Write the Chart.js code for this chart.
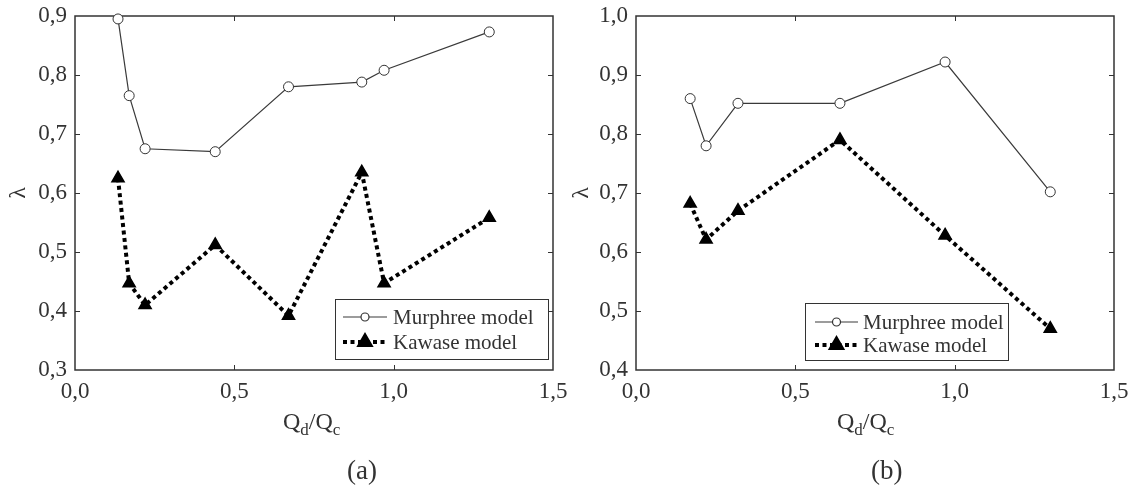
<!DOCTYPE html>
<html>
<head>
<meta charset="utf-8">
<script src="https://cdn.jsdelivr.net/npm/chart.js@4"></script>
<style>
  html, body { margin: 0; padding: 0; background: #fff; }
  #wrap { position: relative; width: 1130px; height: 499px; overflow: hidden;
          font-family: 'Liberation Serif', 'Times New Roman', serif; color: #333; }
  canvas { position: absolute; top: 0; }
  .xt { position: absolute; font-size: 24px; line-height: 1; white-space: nowrap; }
  .xt sub { font-size: 17px; vertical-align: -6px; line-height: 0; }
  .cap { position: absolute; font-size: 27px; line-height: 1; }
</style>
</head>
<body>
<div id="wrap">
  <canvas id="chartA" width="580" height="499" style="left:0"></canvas>
  <canvas id="chartB" width="565" height="499" style="left:565px"></canvas>
  <div class="xt" style="left:283px; top:409px">Q<sub>d</sub>/Q<sub>c</sub></div>
  <div class="xt" style="left:837px; top:409px">Q<sub>d</sub>/Q<sub>c</sub></div>
  <div class="cap" style="left:347px; top:457px">(a)</div>
  <div class="cap" style="left:871px; top:457px">(b)</div>
</div>
<script>
// panel (a)
const qA = [0.135, 0.17, 0.22, 0.44, 0.67, 0.90, 0.97, 1.30];
const murphreeA = [0.895, 0.765, 0.675, 0.670, 0.780, 0.788, 0.808, 0.873];
const kawaseA = [0.625, 0.447, 0.410, 0.512, 0.392, 0.635, 0.447, 0.558];
const yTicksA = ['0,3', '0,4', '0,5', '0,6', '0,7', '0,8', '0,9'];

// panel (b)
const qB = [0.17, 0.22, 0.32, 0.64, 0.97, 1.30];
const murphreeB = [0.860, 0.780, 0.852, 0.852, 0.922, 0.702];
const kawaseB = [0.682, 0.621, 0.670, 0.790, 0.628, 0.470];
const yTicksB = ['0,4', '0,5', '0,6', '0,7', '0,8', '0,9', '1,0'];

const xTicks = ['0,0', '0,5', '1,0', '1,5'];
const seriesNames = ['Murphree model', 'Kawase model'];

const FONT = "'Liberation Serif', 'Times New Roman', serif";
const INK = '#333';

const toPoints = (xs, ys) => xs.map((x, i) => ({ x: x, y: ys[i] }));

// box around the plot with inward tick marks
const framePlugin = {
  id: 'frame',
  beforeDatasetsDraw(chart) {
    const { ctx, chartArea: a, scales } = chart;
    ctx.save();
    ctx.strokeStyle = INK;
    ctx.lineWidth = 1.5;
    ctx.strokeRect(a.left, a.top, a.right - a.left, a.bottom - a.top);
    ctx.lineWidth = 1;
    const len = 5;
    scales.x.ticks.forEach((t, i) => {
      if (i === 0 || i === scales.x.ticks.length - 1) return;
      const px = Math.round(scales.x.getPixelForValue(t.value)) + 0.5;
      ctx.beginPath();
      ctx.moveTo(px, a.bottom); ctx.lineTo(px, a.bottom - len);
      ctx.moveTo(px, a.top); ctx.lineTo(px, a.top + len);
      ctx.stroke();
    });
    scales.y.ticks.forEach((t, i) => {
      if (i === 0 || i === scales.y.ticks.length - 1) return;
      const py = Math.round(scales.y.getPixelForValue(t.value)) + 0.5;
      ctx.beginPath();
      ctx.moveTo(a.left, py); ctx.lineTo(a.left + len, py);
      ctx.moveTo(a.right, py); ctx.lineTo(a.right - len, py);
      ctx.stroke();
    });
    ctx.restore();
  }
};

// legend box placed inside the plot
const boxLegendPlugin = {
  id: 'boxLegend',
  afterDatasetsDraw(chart, args, opts) {
    const { ctx } = chart;
    ctx.save();
    ctx.fillStyle = '#fff';
    ctx.fillRect(opts.x, opts.y, opts.w, opts.h);
    ctx.strokeStyle = INK;
    ctx.lineWidth = 1;
    ctx.strokeRect(opts.x + 0.5, opts.y + 0.5, opts.w, opts.h);
    chart.data.datasets.forEach((ds, i) => {
      const cy = opts.y + opts.rowTop + i * opts.rowGap;
      const x0 = opts.x + opts.sampleLeft;
      const x1 = x0 + opts.sampleLen;
      ctx.save();
      ctx.strokeStyle = ds.borderColor;
      ctx.lineWidth = ds.borderWidth;
      ctx.setLineDash(ds.borderDash || []);
      ctx.beginPath();
      ctx.moveTo(x0, cy); ctx.lineTo(x1, cy);
      ctx.stroke();
      ctx.setLineDash([]);
      ctx.fillStyle = ds.pointBackgroundColor;
      ctx.strokeStyle = ds.pointBorderColor;
      Chart.helpers.drawPoint(ctx, {
        pointStyle: ds.pointStyle, radius: ds.pointRadius - 1,
        borderWidth: ds.pointBorderWidth, rotation: 0
      }, (x0 + x1) / 2, cy);
      ctx.restore();
      ctx.fillStyle = INK;
      ctx.font = '21px ' + FONT;
      ctx.textBaseline = 'middle';
      ctx.fillText(ds.label, x1 + opts.textGap, cy + 1);
    });
    ctx.restore();
  }
};

function makeChart(id, xs, murphree, kawase, yMin, yMax, yLabels, pad, legendBox, titlePad) {
  return new Chart(document.getElementById(id), {
    type: 'line',
    data: {
      datasets: [
        {
          label: seriesNames[0],
          data: toPoints(xs, murphree),
          borderColor: '#3a3a3a',
          borderWidth: 1.2,
          pointStyle: 'circle',
          pointRadius: 5,
          pointBackgroundColor: '#fff',
          pointBorderColor: '#333',
          pointBorderWidth: 1,
          tension: 0
        },
        {
          label: seriesNames[1],
          data: toPoints(xs, kawase),
          borderColor: '#000',
          borderWidth: 4,
          borderDash: [4, 3.5],
          pointStyle: 'triangle',
          pointRadius: 7,
          pointBackgroundColor: '#000',
          pointBorderColor: '#000',
          pointBorderWidth: 1.5,
          tension: 0
        }
      ]
    },
    options: {
      responsive: false,
      animation: false,
      clip: false,
      layout: { padding: pad },
      plugins: {
        legend: { display: false },
        tooltip: { enabled: false },
        boxLegend: legendBox
      },
      scales: {
        x: {
          type: 'linear',
          min: 0, max: 1.5,
          grid: { display: false, drawTicks: false },
          border: { display: false },
          ticks: {
            stepSize: 0.5,
            padding: 8,
            color: INK,
            font: { family: FONT, size: 23 },
            callback: (v, i) => xTicks[i]
          },
          afterFit: (s) => { s.height = 40; s.paddingLeft = 0; s.paddingRight = 0; }
        },
        y: {
          min: yMin, max: yMax,
          grid: { display: false, drawTicks: false },
          border: { display: false },
          ticks: {
            stepSize: 0.1,
            padding: 8,
            color: INK,
            font: { family: FONT, size: 23 },
            callback: (v, i) => yLabels[i]
          },
          title: {
            display: true,
            text: 'λ',
            color: INK,
            font: { family: FONT, size: 24 },
            padding: titlePad
          },
          afterFit: (s) => { s.width = pad.yWidth; s.paddingTop = 0; s.paddingBottom = 0; }
        }
      }
    },
    plugins: [framePlugin, boxLegendPlugin]
  });
}

makeChart('chartA', qA, murphreeA, kawaseA, 0.3, 0.9, yTicksA,
  { left: 0, top: 16, right: 27, bottom: 89, yWidth: 75 },
  { x: 335, y: 299, w: 213, h: 60, rowTop: 18, rowGap: 25, sampleLeft: 8, sampleLen: 44, textGap: 6 },
  { top: 4, bottom: 0 });

makeChart('chartB', qB, murphreeB, kawaseB, 0.4, 1.0, yTicksB,
  { left: 0, top: 16, right: 16, bottom: 89, yWidth: 71 },
  { x: 240, y: 303, w: 203, h: 57, rowTop: 19, rowGap: 23, sampleLeft: 10, sampleLen: 43, textGap: 5 },
  { top: 2, bottom: 0 });
</script>
</body>
</html>
